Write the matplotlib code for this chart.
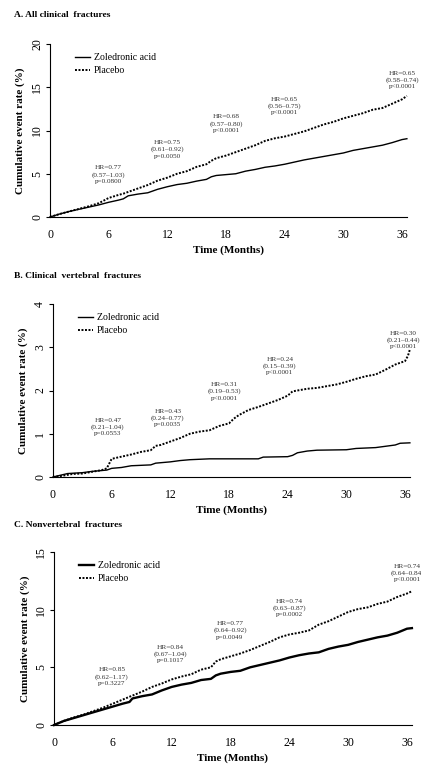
import matplotlib
matplotlib.use("Agg")
import matplotlib.pyplot as plt

plt.rcParams['font.family'] = ['Liberation Serif', 'DejaVu Serif']

months_A = [0, 1, 2, 3, 4, 5, 6, 7, 7.5, 8, 9, 10, 11, 12, 13, 14, 15, 16, 16.5, 17, 18, 19, 20,
            21, 22, 23, 24, 25, 26, 27, 28, 29, 30, 31, 32, 33, 34, 35, 36, 36.5]
zol_A = [0, 0.35, 0.65, 0.9, 1.15, 1.4, 1.7, 1.95, 2.1, 2.45, 2.65, 2.8, 3.2, 3.5, 3.75, 3.9, 4.15,
         4.35, 4.65, 4.8, 4.9, 5.0, 5.3, 5.5, 5.75, 5.9, 6.1, 6.35, 6.6, 6.8, 7.0, 7.2, 7.4, 7.7,
         7.9, 8.1, 8.3, 8.6, 8.95, 9.05]
pla_A = [0, 0.35, 0.65, 0.95, 1.25, 1.6, 2.2, 2.55, 2.7, 2.9, 3.3, 3.7, 4.2, 4.55, 5.0, 5.3, 5.8,
         6.1, 6.5, 6.8, 7.1, 7.5, 7.9, 8.3, 8.8, 9.1, 9.3, 9.6, 9.9, 10.3, 10.7, 11.0, 11.4, 11.7,
         12.0, 12.4, 12.6, 13.1, 13.6, 14.0]

months_B_zol = [0, 1.5, 3, 4, 5, 5.5, 6, 7, 8, 9, 10, 10.5, 11, 12, 13, 14, 15, 16, 17, 21, 21.5,
                24, 24.5, 25, 26, 27, 30, 31, 33, 34, 35, 35.5, 36.5]
zol_B = [0, 0.08, 0.1, 0.13, 0.15, 0.16, 0.2, 0.22, 0.26, 0.27, 0.28, 0.32, 0.33, 0.35, 0.38, 0.4,
         0.41, 0.42, 0.42, 0.42, 0.46, 0.47, 0.5, 0.56, 0.6, 0.62, 0.63, 0.66, 0.68, 0.71, 0.74,
         0.78, 0.79]
months_B_pla = [0, 1, 2, 3, 4, 5, 5.5, 6, 7, 8, 9, 10, 10.5, 11, 12, 13, 14, 15, 16, 17, 18, 18.5,
                19, 20, 21, 22, 23, 24, 24.5, 25, 26, 27, 28, 29, 30, 31, 32, 33, 34, 35, 36, 36.3,
                36.5]
pla_B = [0, 0.03, 0.07, 0.08, 0.12, 0.16, 0.2, 0.42, 0.47, 0.52, 0.58, 0.62, 0.72, 0.74, 0.82, 0.9,
         1.0, 1.05, 1.08, 1.18, 1.24, 1.35, 1.43, 1.55, 1.62, 1.7, 1.78, 1.88, 1.98, 2.0, 2.04,
         2.06, 2.1, 2.14, 2.2, 2.27, 2.33, 2.37, 2.48, 2.6, 2.68, 2.8, 2.95]

months_C = [0, 1, 2, 3, 4, 5, 6, 7, 7.7, 8, 9, 10, 11, 12, 13, 14, 15, 16, 16.5, 17, 18, 19, 20,
            21, 22, 23, 24, 25, 26, 27, 28, 29, 30, 31, 32, 33, 34, 35, 36, 36.5]
zol_C = [0, 0.35, 0.6, 0.85, 1.1, 1.35, 1.6, 1.85, 2.0, 2.3, 2.5, 2.65, 3.0, 3.3, 3.5, 3.65, 3.9,
         4.0, 4.3, 4.45, 4.6, 4.7, 5.0, 5.2, 5.4, 5.6, 5.85, 6.05, 6.2, 6.3, 6.6, 6.8, 6.95, 7.2,
         7.4, 7.6, 7.75, 8.0, 8.35, 8.4]
pla_C = [0, 0.35, 0.65, 0.9, 1.2, 1.5, 1.85, 2.2, 2.45, 2.55, 2.9, 3.3, 3.6, 3.95, 4.2, 4.4, 4.8,
         5.0, 5.5, 5.7, 5.95, 6.2, 6.5, 6.85, 7.2, 7.6, 7.85, 8.0, 8.2, 8.7, 9.0, 9.4, 9.8, 10.05,
         10.2, 10.5, 10.7, 11.1, 11.4, 11.6]

# hazard ratio boxes: (month, y centre, text)
hr_A = [(6, 4.9, "HR=0.77\n(0.57\u20131.03)\np=0.0800"),
        (12, 7.8, "HR=0.75\n(0.61\u20130.92)\np=0.0050"),
        (18, 10.8, "HR=0.68\n(0.57\u20130.80)\np<0.0001"),
        (24, 12.8, "HR=0.65\n(0.56\u20130.75)\np<0.0001"),
        (36, 15.8, "HR=0.65\n(0.58\u20130.74)\np<0.0001")]
hr_B = [(5.6, 1.16, "HR=0.47\n(0.21\u20131.04)\np=0.0553"),
        (11.75, 1.36, "HR=0.43\n(0.24\u20130.77)\np=0.0035"),
        (17.5, 1.98, "HR=0.31\n(0.19\u20130.53)\np<0.0001"),
        (23.2, 2.56, "HR=0.24\n(0.15\u20130.39)\np<0.0001"),
        (35.8, 3.16, "HR=0.30\n(0.21\u20130.44)\np<0.0001")]
hr_C = [(5.9, 4.2, "HR=0.85\n(0.62\u20131.17)\np=0.3227"),
        (11.9, 6.14, "HR=0.84\n(0.67\u20131.04)\np=0.1017"),
        (17.95, 8.2, "HR=0.77\n(0.64\u20130.92)\np=0.0049"),
        (24.0, 10.17, "HR=0.74\n(0.63\u20130.87)\np=0.0002"),
        (36.0, 13.15, "HR=0.74\n(0.64\u20130.84)\np<0.0001")]

xticks = [0, 6, 12, 18, 24, 30, 36]

W, H = 421, 764
fig = plt.figure(figsize=(W / 100, H / 100), dpi=100)


def px_axes(x0, x36, y0, ytop):
    # axes box from pixel coords of x=0, x=36, y=0 and y=top
    per_month = (x36 - x0) / 36
    right = x0 + 36.5 * per_month
    return fig.add_axes([x0 / W, (H - y0) / H, (right - x0) / W, (y0 - ytop) / H])


def panel(ax, title, title_y, xz, yz, xp, yp, hrs, ymax, ystep, lw_zol, leg_xy):
    ax.plot(xz, yz, color='black', lw=lw_zol, label='Zoledronic acid', clip_on=False)
    ax.plot(xp, yp, color='black', lw=1.4, linestyle=(0, (1, 0.8)), label='Placebo', clip_on=False)
    ax.set_xlim(0, 36.5)
    ax.set_ylim(0, ymax)
    ax.set_xticks(xticks)
    ax.set_yticks(range(0, ymax + 1, ystep))
    for s in ['top', 'right']:
        ax.spines[s].set_visible(False)
    ax.spines['left'].set_linewidth(0.8)
    ax.spines['bottom'].set_linewidth(0.8)
    ax.tick_params(axis='x', length=0, pad=9, labelsize=8.5)
    ax.tick_params(axis='y', length=3, width=0.8, pad=2, labelsize=8.5, labelrotation=90)
    for lab in ax.get_yticklabels():
        lab.set_va('center')
    ax.set_xlabel('Time (Months)', fontweight='bold', fontsize=8, labelpad=3)
    ax.set_ylabel('Cumulative event rate (%)', fontweight='bold', fontsize=8, labelpad=4)
    for x, y, t in hrs:
        ax.text(x, y, t, ha='center', va='center', fontsize=5.2, linespacing=1.3,
                color='#333333', clip_on=False)
    ax.legend(loc='upper left', bbox_to_anchor=leg_xy, frameon=False, fontsize=7.0,
              handlelength=1.5, handletextpad=0.4, labelspacing=0.4, borderaxespad=0)
    fig.text(14 / W, (H - title_y) / H, title, fontweight='bold', fontsize=6.8,
             ha='left', va='center')


axA = px_axes(50, 402, 217, 44)
panel(axA, 'A. All clinical  fractures', 15, months_A, zol_A, months_A, pla_A, hr_A,
      20, 5, 1.0, (0.06, 0.97))

axB = px_axes(53, 405, 477, 304)
panel(axB, 'B. Clinical  vertebral  fractures', 276, months_B_zol, zol_B, months_B_pla, pla_B,
      hr_B, 4, 1, 1.0, (0.06, 0.97))

axC = px_axes(54, 407, 725, 552)
panel(axC, 'C. Nonvertebral  fractures', 525, months_C, zol_C, months_C, pla_C, hr_C,
      15, 5, 1.7, (0.06, 0.97))

fig.savefig('out.png', dpi=100)
